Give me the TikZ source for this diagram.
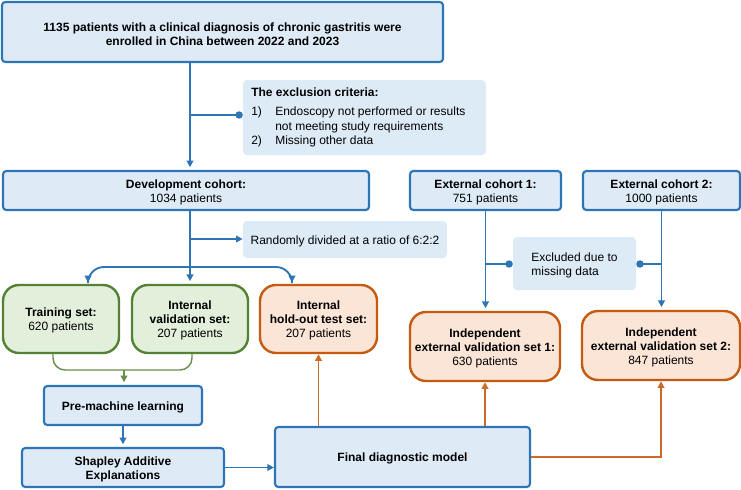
\documentclass[tikz,border=0pt]{standalone}
\usepackage{fontspec}
\setmainfont{Liberation Sans}
\usetikzlibrary{arrows.meta}
\definecolor{bline}{HTML}{2E75B6}
\definecolor{bfill}{HTML}{DEEBF7}
\definecolor{lfill}{HTML}{DDEBF7}
\definecolor{gline}{HTML}{548235}
\definecolor{gfill}{HTML}{E2EFDA}
\definecolor{gconn}{HTML}{6A8F4A}
\definecolor{oline}{HTML}{C55A11}
\definecolor{ofill}{HTML}{FBE5D6}
\definecolor{oconn}{HTML}{CC6A26}
% box with its text: name, style, x1, y1, x2, y2, text
\newcommand\mybox[7]{%
  \node[#2, area={#3}{#4}{#5}{#6}] (#1) {};
  \node[btext] (#1-t) at ([yshift=-1.4pt]#1.center) {#7};}
\begin{document}
\begin{tikzpicture}[x=0.75pt,y=-0.75pt,
  font=\fontsize{9}{10.5}\selectfont,
  area/.style n args={4}{at={({(#1+#3)/2},{(#2+#4)/2})}, anchor=center,
     minimum width={(#3-#1)*0.75pt}, minimum height={(#4-#2)*0.75pt}},
  btext/.style={inner sep=0pt, align=center},
  bbox/.style={draw=bline, fill=bfill, line width=1.6pt, rounded corners=2.5pt, inner sep=0pt},
  lbox/.style={fill=lfill, draw=none, rounded corners=3pt, inner sep=0pt},
  gbox/.style={draw=gline, fill=gfill, line width=1.8pt, rounded corners=12pt, inner sep=0pt},
  obox/.style={draw=oline, fill=ofill, line width=1.8pt, rounded corners=12pt, inner sep=0pt},
  barrow/.style={draw=bline, line width=1.4pt, -{Triangle[length=5pt,width=5pt]}, shorten >=2pt},
  bdot/.style={draw=bline, line width=1.4pt, -{Circle[length=5.5pt]}},
  garrow/.style={draw=gconn, line width=1.1pt, -{Triangle[length=5pt,width=5pt]}, shorten >=2pt},
  oarrow/.style={draw=oconn, line width=1.4pt, -{Triangle[length=5pt,width=5pt]}},
  txt/.style={inner sep=0pt, anchor=west, yshift=-1pt}]
\useasboundingbox (0,0) rectangle (741,489);

% boxes
\mybox{top}{bbox}{2}{2}{443}{62}{\textbf{1135 patients with a clinical diagnosis of chronic gastritis were}\\\textbf{enrolled in China between 2022 and 2023}}
\node[lbox, area={243}{80}{486}{155}] (excl) {};
\node[txt] (ex0) at (251,91) {\textbf{The exclusion criteria:}};
\node[txt] (ex1n) at (251,111) {1)};
\node[txt] (ex1) at (275,111) {Endoscopy not performed or results};
\node[txt] (ex1b) at (275,126) {not meeting study requirements};
\node[txt] (ex2n) at (251,140) {2)};
\node[txt] (ex2) at (275,140) {Missing other data};

\mybox{dev}{bbox}{3}{171}{369}{210}{\textbf{Development cohort:}\\1034 patients}
\mybox{rand}{lbox}{243}{221}{447}{258}{Randomly divided at a ratio of 6:2:2}

\mybox{train}{gbox}{3}{285}{119}{353}{\textbf{Training set:}\\620 patients}
\mybox{ival}{gbox}{132}{285}{248}{353}{\textbf{Internal}\\\textbf{validation set:}\\207 patients}
\mybox{hold}{obox}{260}{285}{377}{353}{\textbf{Internal}\\\textbf{hold-out test set:}\\207 patients}

\mybox{ext1}{bbox}{410}{171}{561}{210}{\textbf{External cohort 1:}\\751 patients}
\mybox{ext2}{bbox}{583}{171}{740}{210}{\textbf{External cohort 2:}\\1000 patients}
\node[lbox, area={513}{237}{636}{290}] (excl2) {};
\node[btext, align=left] (excl2-t) at ([yshift=-1.4pt]excl2.center) {Excluded due to\\missing data};

\mybox{iev1}{obox}{410}{312}{560}{381}{\textbf{Independent}\\\textbf{external validation set 1:}\\630 patients}
\mybox{iev2}{obox}{582}{311}{740}{380}{\textbf{Independent}\\\textbf{external validation set 2:}\\847 patients}

\mybox{preml}{bbox}{44}{386}{202}{425}{\textbf{Pre-machine learning}}
\mybox{shap}{bbox}{22}{448}{224}{487}{\textbf{Shapley Additive}\\\textbf{Explanations}}
\mybox{final}{bbox}{275}{427}{530}{487}{\textbf{Final diagnostic model}}

% helper coordinates
\coordinate (c1) at (190,0);
\coordinate (yex) at (0,115);
\coordinate (yrand) at (0,239);
\coordinate (ysplit) at (0,267);
\coordinate (tl) at (88,285);
\coordinate (tr) at (292,285);
\coordinate (g1) at (53,353);
\coordinate (g2) at (192,353);
\coordinate (gm) at (124,370);
\coordinate (yex2) at (0,264);

% connectors
\draw[barrow] (top.south -| c1) -- (dev.north -| c1);
\draw[bdot] (c1 |- yex) -- (excl.west |- yex);
\draw[barrow] (dev.south -| c1) -- (ival.north -| c1);
\draw[barrow, shorten >=0pt] (c1 |- yrand) -- (rand.west |- yrand);
\draw[barrow, rounded corners=12pt] (c1 |- ysplit) -| (tl);
\draw[barrow, rounded corners=12pt] (c1 |- ysplit) -| (tr);

\draw[draw=gconn, line width=1.1pt, rounded corners=9pt] (g1) |- (gm) -| (g2);
\draw[garrow] (gm) -- (preml.north -| gm);

\draw[barrow] (preml.south) -- (shap.north);
\draw[barrow, shorten >=0pt] (shap.east) -- (shap.east -| final.west);

\draw[oarrow] (hold.south |- final.north) -- (hold.south);
\draw[oarrow] (iev1.south |- final.north) -- (iev1.south);
\draw[oarrow] (final.east) -| (iev2.south);

\draw[barrow] (ext1.south) -- (ext1.south |- iev1.north);
\draw[barrow] (ext2.south) -- (ext2.south |- iev2.north);
\draw[bdot] (ext1.south |- yex2) -- (excl2.west |- yex2);
\draw[bdot] (ext2.south |- yex2) -- (excl2.east |- yex2);
\end{tikzpicture}
\end{document}
